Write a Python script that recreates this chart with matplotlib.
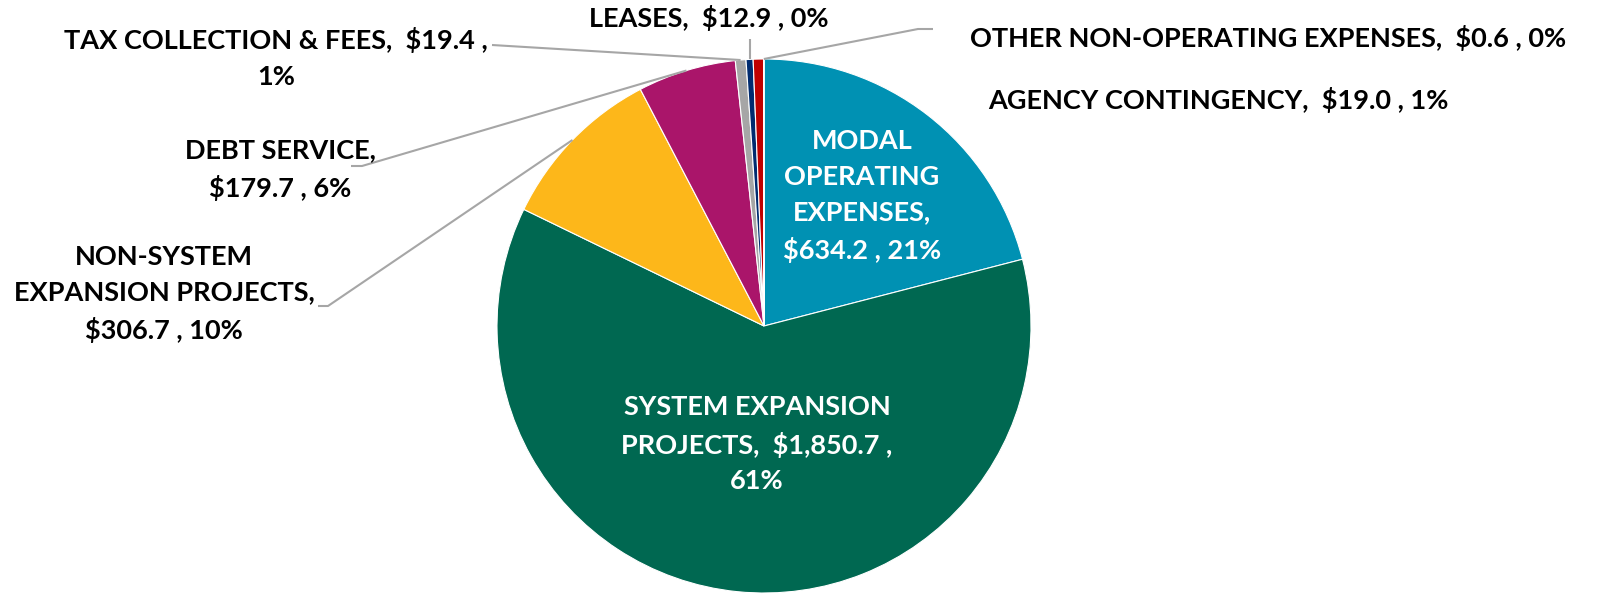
import numpy as np
import matplotlib
matplotlib.use("Agg")
from matplotlib import pyplot as plt

# Donnees du graphique (millions $), dans l'ordre horaire depuis midi
categories = ["MODAL OPERATING EXPENSES", "SYSTEM EXPANSION PROJECTS",
              "NON-SYSTEM EXPANSION PROJECTS", "DEBT SERVICE",
              "TAX COLLECTION & FEES", "LEASES", "AGENCY CONTINGENCY",
              "OTHER NON-OPERATING EXPENSES"]
values = [634.2, 1850.7, 306.7, 179.7, 19.4, 12.9, 19.0, 0.6]
colors = ["#0091B3", "#006851", "#FDB71A", "#AA156A", "#A6A6A6", "#002B6F", "#C00000", "#7F7F7F"]

# Lignes de chaque etiquette ({v} = montant, {p} = pourcentage)
breaks = [["MODAL", "OPERATING", "EXPENSES,", "{v} , {p}"],
          ["SYSTEM EXPANSION", "PROJECTS,  {v} ,", "{p}"],
          ["NON-SYSTEM", "EXPANSION PROJECTS,", "{v} , {p}"],
          ["DEBT SERVICE,", "{v} , {p}"],
          ["TAX COLLECTION & FEES,  {v} ,", "{p}"],
          ["LEASES,  {v} , {p}"],
          ["AGENCY CONTINGENCY,  {v} , {p}"],
          ["OTHER NON-OPERATING EXPENSES,  {v} , {p}"]]

total = sum(values)
labels = []
for v, b in zip(values, breaks):
    txt = "\n".join(b)
    labels.append(txt.format(v="${:,.1f}".format(v), p="{:.0f}%".format(100 * v / total)))

fig = plt.figure(figsize=(15.98, 5.94), dpi=100)
ax = fig.add_axes([0, 0, 1, 1])

cx, cy, R = 764, 268, 267
wedges, _ = ax.pie(values, colors=colors, startangle=90, counterclock=False,
                   center=(cx, cy), radius=R,
                   wedgeprops=dict(edgecolor="white", linewidth=0.8))
ax.set_xlim(0, 1598)
ax.set_ylim(0, 594)
ax.set_aspect("equal")
ax.axis("off")

font = dict(family=["Lato", "DejaVu Sans"], fontweight="bold", fontsize=19.5, linespacing=1.58)

def bord(i):
    # point sur le bord du quartier i, a son angle median
    w = wedges[i]
    a = np.deg2rad((w.theta1 + w.theta2) / 2)
    return cx + R * np.cos(a), cy + R * np.sin(a)

lead = dict(color="#A6A6A6", lw=1.5, solid_capstyle="butt")

# etiquettes internes (blanches)
ax.text(862, 398, labels[0], color="white", ha="center", va="center", **font)
ax.text(757, 150, labels[1], color="white", ha="center", va="center", **font)

# etiquettes externes
ax.text(164, 300, labels[2], color="black", ha="center", va="center", **font)
wx, wy = bord(2)
ax.plot([318, 328, wx], [288, 288, wy], **lead)

ax.text(280, 424, labels[3], color="black", ha="center", va="center", **font)
wx, wy = bord(3)
ax.plot([351, 362, wx], [428, 428, wy], **lead)

ax.text(276, 536, labels[4], color="black", ha="center", va="center", **font)
wx, wy = bord(4)
ax.plot([492, wx], [549, wy], **lead)

ax.text(709, 576, labels[5], color="black", ha="center", va="center", **font)
wx, wy = bord(5)
ax.plot([wx, wx], [555, wy], **lead)

ax.text(1218, 494, labels[6], color="black", ha="center", va="center", **font)

ax.text(1268, 556, labels[7], color="black", ha="center", va="center", **font)
wx, wy = bord(7)
ax.plot([933, 918, wx], [565, 565, wy], **lead)

fig.savefig("out.png", dpi=100)
